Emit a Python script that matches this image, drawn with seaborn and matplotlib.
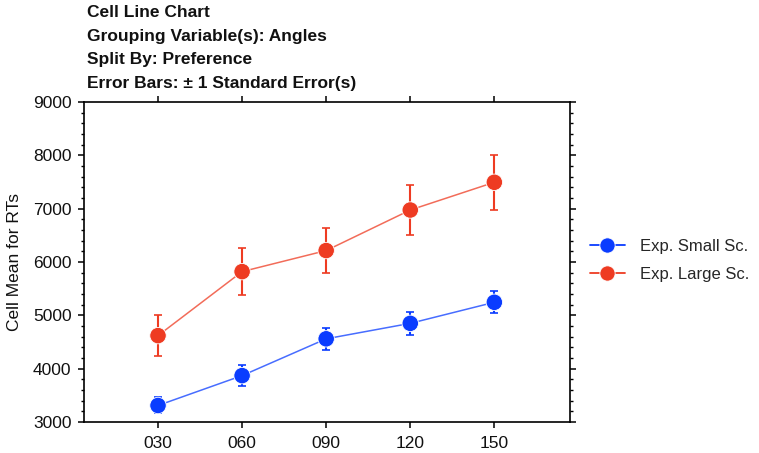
import matplotlib
matplotlib.use("Agg")
import matplotlib.pyplot as plt
from matplotlib.ticker import MultipleLocator
import pandas as pd
import seaborn as sns

# values
angles = ["030", "060", "090", "120", "150"]
small_means = [3310, 3870, 4560, 4850, 5245]
small_se = [150, 200, 205, 210, 210]
large_means = [4620, 5820, 6215, 6975, 7495]
large_se = [390, 445, 420, 470, 515]
series = ["Exp. Small Sc.", "Exp. Large Sc."]
colors = {"Exp. Small Sc.": "#0A3CFF", "Exp. Large Sc.": "#EE3B22"}

df = pd.concat([
    pd.DataFrame({"angle": angles, "mean": small_means, "se": small_se, "group": series[0]}),
    pd.DataFrame({"angle": angles, "mean": large_means, "se": large_se, "group": series[1]}),
], ignore_index=True)

sns.set_theme(style="white")
plt.rcParams["font.family"] = ["Liberation Sans", "DejaVu Sans"]
FS = 12.5

fig = plt.figure(figsize=(7.59, 4.53), dpi=100)
ax = fig.add_axes([0.1107, 0.0684, 0.6403, 0.7064])

sns.lineplot(data=df, x="angle", y="mean", hue="group", hue_order=series,
             palette=colors, sort=False, lw=1.1, alpha=0.75, legend=False, ax=ax)
sns.scatterplot(data=df, x="angle", y="mean", hue="group", hue_order=series,
                palette=colors, s=140, edgecolor="white", linewidth=0.6,
                legend=False, zorder=4, ax=ax)

for name in series:
    sub = df[df["group"] == name]
    ax.errorbar(range(len(sub)), sub["mean"], yerr=sub["se"], fmt="none",
                ecolor=colors[name], elinewidth=1.5, capsize=3, capthick=1.2, zorder=3)

ax.set_xlim(-0.88, 4.9)
ax.set_ylim(3000, 9000)
ax.yaxis.set_major_locator(MultipleLocator(1000))
ax.yaxis.set_minor_locator(MultipleLocator(200))
ax.set_xlabel("")
ax.set_ylabel("Cell Mean for RTs", fontsize=FS, color="#111111")
ax.yaxis.set_label_coords(-0.128, 0.5)

for s in ax.spines.values():
    s.set_visible(True)
    s.set_color("black")
    s.set_linewidth(1.2)
ax.tick_params(which="both", direction="out", top=True, right=True,
               bottom=True, left=True, labelsize=FS, colors="black",
               labelcolor="#111111")
ax.tick_params(which="major", length=4, width=1.1)
ax.tick_params(which="minor", length=2.5, width=1.0)
ax.tick_params(axis="y", which="major", pad=5)
ax.tick_params(axis="x", which="major", pad=6)
ax.tick_params(axis="x", which="minor", bottom=False, top=False)

handles = [plt.Line2D([], [], color=colors[n], marker="o", markersize=11,
                      markeredgecolor="white", markeredgewidth=0.6, lw=1.3)
           for n in series]
fig.legend(handles, series, loc="center left", bbox_to_anchor=(0.777, 0.426),
           frameon=False, fontsize=12, handlelength=2.1, handletextpad=0.9,
           labelspacing=0.78, borderpad=0, borderaxespad=0)

titles = ["Cell Line Chart", "Grouping Variable(s): Angles",
          "Split By: Preference", "Error Bars: \u00b1 1 Standard Error(s)"]
for i, t in enumerate(titles):
    fig.text(0.114, 1 - (12.5 + 23.6 * i) / 453, t, fontsize=FS,
             fontweight="bold", va="center", ha="left", color="#111111")

fig.savefig("out.png", dpi=100)
